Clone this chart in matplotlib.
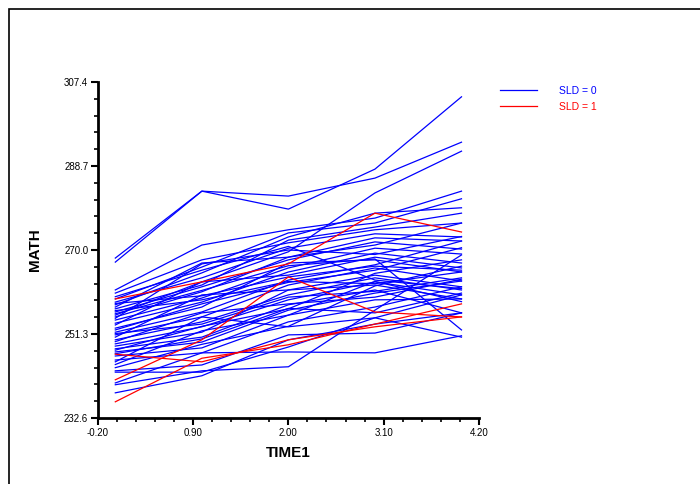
import numpy as np
import matplotlib
matplotlib.use("Agg")
import matplotlib.pyplot as plt
from matplotlib.patches import Rectangle

plt.rcParams['font.family'] = ['Liberation Sans', 'DejaVu Sans']

time1 = [0, 1, 2, 3, 4]

# math scores per student, SLD = 0
sld0 = [
    [268.2, 283.1, 282.0, 286.0, 294.0],
    [267.3, 283.1, 279.1, 288.0, 304.1],
    [255.5, 262.9, 269.6, 282.7, 292.0],
    [261.1, 271.1, 274.5, 277.1, 283.1],
    [259.1, 266.2, 273.8, 276.0, 281.4],
    [257.8, 264.9, 272.9, 278.2, 279.4],
    [256.9, 262.2, 272.2, 275.1, 278.2],
    [260.4, 267.8, 271.6, 274.5, 276.0],
    [258.4, 263.8, 270.4, 273.6, 272.9],
    [257.3, 267.1, 268.4, 272.7, 272.0],
    [256.2, 261.8, 267.8, 271.8, 270.2],
    [255.1, 260.7, 268.4, 271.1, 276.0],
    [254.4, 259.3, 266.0, 270.4, 269.1],
    [253.7, 258.4, 265.1, 269.3, 267.1],
    [253.3, 262.9, 264.4, 268.4, 266.0],
    [252.6, 257.3, 267.1, 267.8, 265.1],
    [251.7, 256.2, 263.3, 266.7, 272.0],
    [251.1, 255.1, 262.2, 266.0, 263.1],
    [250.6, 260.0, 261.1, 264.4, 261.8],
    [250.0, 254.0, 260.0, 263.8, 261.1],
    [249.1, 252.9, 258.9, 262.9, 260.0],
    [248.6, 251.7, 261.1, 262.2, 259.1],
    [248.0, 250.6, 257.8, 261.1, 256.0],
    [247.3, 249.5, 256.6, 260.4, 263.1],
    [246.4, 248.2, 255.5, 258.9, 259.1],
    [245.5, 247.1, 254.0, 257.3, 261.8],
    [245.1, 255.1, 252.9, 254.9, 250.6],
    [243.1, 244.4, 251.1, 251.5, 256.0],
    [242.8, 242.8, 248.4, 254.9, 260.0],
    [240.0, 243.1, 244.0, 256.6, 268.9],
    [240.4, 247.1, 247.3, 247.1, 250.9],
    [238.2, 242.0, 250.0, 253.5, 256.0],
    [258.1, 259.8, 264.0, 266.4, 265.5],
    [256.5, 258.9, 263.0, 262.5, 265.1],
    [254.8, 266.9, 270.0, 269.0, 273.0],
    [252.2, 258.0, 262.8, 265.5, 270.5],
    [249.6, 256.0, 258.0, 259.5, 263.5],
    [247.7, 253.0, 256.9, 264.8, 267.8],
    [244.5, 252.0, 255.5, 263.0, 258.5],
    [259.6, 265.5, 270.8, 263.3, 261.4],
    [255.8, 261.0, 266.5, 268.0, 252.2],
    [251.4, 253.5, 259.5, 260.8, 263.8],
    [246.9, 250.2, 257.0, 256.0, 260.4],
    [243.8, 249.0, 253.0, 262.0, 266.4],
]

# SLD = 1
sld1 = [
    [259.1, 262.9, 266.9, 278.2, 274.0],
    [241.1, 250.0, 264.0, 256.2, 255.1],
    [246.8, 245.1, 250.0, 252.9, 255.1],
    [236.2, 245.9, 248.9, 253.5, 258.0],
]

xticks = [-0.20, 0.90, 2.00, 3.10, 4.20]
yticks = [232.6, 251.3, 270.0, 288.7, 307.4]

fig = plt.figure(figsize=(7, 4.84), dpi=100)
ax = fig.add_axes([0.14, 0.1364, 0.544, 0.6942])

for i, s in enumerate(sld0):
    ax.plot(time1, s, color='#0000ff', lw=0.9, label='SLD = 0' if i == 0 else None)
for i, s in enumerate(sld1):
    ax.plot(time1, s, color='#ff0000', lw=0.9, label='SLD = 1' if i == 0 else None)

ax.set_xlim(xticks[0], xticks[-1])
ax.set_ylim(yticks[0], yticks[-1])
ax.set_xticks(xticks)
ax.set_xticklabels(['%.2f' % v for v in xticks])
ax.set_yticks(yticks)
ax.set_yticklabels(['%.1f' % v for v in yticks])
ax.set_xticks(np.linspace(xticks[0], xticks[-1], 21), minor=True)
ax.set_yticks(np.linspace(yticks[0], yticks[-1], 21), minor=True)
ax.tick_params(which='major', length=5, width=1.5, labelsize=7, pad=2)
ax.tick_params(which='minor', length=3, width=1.2)

for side in ['top', 'right']:
    ax.spines[side].set_visible(False)
for side in ['left', 'bottom']:
    ax.spines[side].set_linewidth(2)

ax.set_xlabel('TIME1', fontsize=11, fontweight='bold', labelpad=6)
ax.set_ylabel('MATH', fontsize=11, fontweight='bold', labelpad=16)

leg = ax.legend(loc='upper left', bbox_to_anchor=(1.03, 1.016), frameon=False,
                fontsize=7.5, handlelength=3.6, handletextpad=2.1,
                labelspacing=0.55, labelcolor='linecolor')

# outer frame (top and left edges visible)
fig.patches.append(Rectangle((9 / 700, -0.5), 2.0, 0.5 + 1 - 9 / 484,
                             transform=fig.transFigure, fill=False,
                             edgecolor='black', lw=1.2))

fig.savefig('out.png', dpi=100)
